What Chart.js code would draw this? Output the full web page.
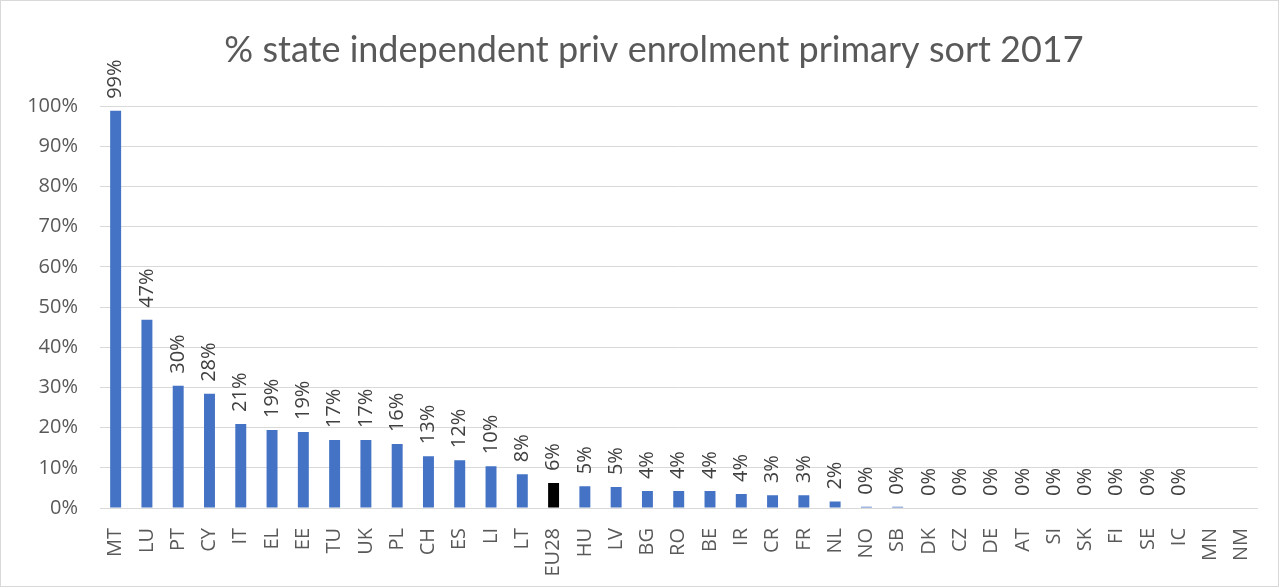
<!DOCTYPE html>
<html>
<head>
<meta charset="utf-8">
<script src="https://cdn.jsdelivr.net/npm/chart.js@4"></script>
<style>
  html, body { margin: 0; padding: 0; background: #fff; }
  #wrap { position: relative; width: 1277px; height: 585px; border: 1px solid #d9d9d9; }
</style>
</head>
<body>
<div id="wrap"><canvas id="chart"></canvas></div>
<script>
const title = '% state independent priv enrolment primary sort 2017';

const countries = ['MT', 'LU', 'PT', 'CY', 'IT', 'EL', 'EE', 'TU', 'UK', 'PL', 'CH', 'ES', 'LI', 'LT',
  'EU28', 'HU', 'LV', 'BG', 'RO', 'BE', 'IR', 'CR', 'FR', 'NL', 'NO', 'SB', 'DK', 'CZ', 'DE', 'AT',
  'SI', 'SK', 'FI', 'SE', 'IC', 'MN', 'NM'];

// share of pupils in private enrolment (%), MN and NM have no data
const shares = [98.8, 46.8, 30.4, 28.4, 20.9, 19.4, 18.9, 16.9, 16.9, 15.9, 12.9, 11.9, 10.4, 8.4,
  6.2, 5.4, 5.2, 4.2, 4.2, 4.2, 3.5, 3.2, 3.2, 1.6, 0.3, 0.3, 0, 0, 0, 0,
  0, 0, 0, 0, 0, null, null];

const yTicks = [0, 10, 20, 30, 40, 50, 60, 70, 80, 90, 100];

const barColors = countries.map(c => c === 'EU28' ? '#000000' : '#4472c4');

// rotated value labels above each bar
const valueLabels = {
  id: 'valueLabels',
  afterDatasetsDraw(chart) {
    const ctx = chart.ctx;
    const meta = chart.getDatasetMeta(0);
    ctx.save();
    ctx.font = '20px "Open Sans"';
    ctx.fillStyle = '#404040';
    ctx.textAlign = 'left';
    ctx.textBaseline = 'middle';
    meta.data.forEach((bar, i) => {
      const v = shares[i];
      if (v === null) return;
      ctx.save();
      ctx.translate(bar.x, bar.y - 12);
      ctx.rotate(-Math.PI / 2);
      ctx.fillText(Math.round(v) + '%', 0, 0);
      ctx.restore();
    });
    ctx.restore();
  }
};

const chartTitle = {
  id: 'chartTitle',
  afterDraw(chart) {
    const ctx = chart.ctx;
    ctx.save();
    ctx.font = '36px Lato';
    ctx.fillStyle = '#595959';
    ctx.textAlign = 'center';
    ctx.textBaseline = 'middle';
    ctx.fillText(title, 653, 49);
    ctx.restore();
  }
};

new Chart(document.getElementById('chart'), {
  type: 'bar',
  data: {
    labels: countries,
    datasets: [{
      data: shares,
      backgroundColor: barColors,
      barPercentage: 0.35,
      categoryPercentage: 1
    }]
  },
  options: {
    responsive: true,
    maintainAspectRatio: false,
    animation: false,
    layout: { padding: { top: 105, right: 16, left: 0, bottom: 0 } },
    plugins: {
      legend: { display: false },
      tooltip: { enabled: false }
    },
    scales: {
      x: {
        grid: { display: false },
        border: { color: '#d9d9d9', width: 1 },
        ticks: {
          color: '#595959',
          font: { family: 'Open Sans', size: 20 },
          minRotation: 90,
          maxRotation: 90,
          padding: 12,
          autoSkip: false
        },
        afterFit(axis) { axis.height = 78; }
      },
      y: {
        min: 0,
        max: 100,
        afterBuildTicks(axis) { axis.ticks = yTicks.map(v => ({ value: v })); },
        grid: { color: '#d9d9d9', drawTicks: false },
        border: { display: false },
        ticks: {
          color: '#595959',
          font: { family: 'Open Sans', size: 20 },
          padding: 22,
          callback: v => v + '%'
        },
        afterFit(axis) { axis.width = 99; }
      }
    }
  },
  plugins: [valueLabels, chartTitle]
});
</script>
</body>
</html>
